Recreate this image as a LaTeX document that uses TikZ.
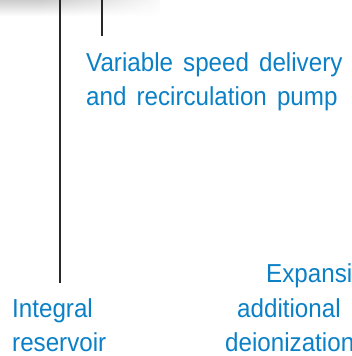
\documentclass[tikz,border=0pt]{standalone}
\usepackage{fontspec}
\setmainfont[FakeStretch=0.93,WordSpace=1.5]{Liberation Sans}
\usetikzlibrary{fadings}
\definecolor{labelblue}{RGB}{10,128,198}
\definecolor{leadgray}{RGB}{40,40,40}
\begin{document}
\begin{tikzpicture}[x=1pt,y=-1pt,
  lbl/.style={anchor=base west,inner sep=0pt,text=labelblue,font=\fontsize{26}{33}\selectfont},
  lead/.style={draw=leadgray,line width=2.5pt}]
\useasboundingbox (0,0) rectangle (351,356);
\clip (0,0) rectangle (351,356);
% soft shadow at top-left
\fill[gray!45,path fading=south] (0,-2) rectangle (160,16);
\fill[white,path fading=west] (40,-2) rectangle (170,17);
% leader lines
\coordinate (topA) at (60,0);
\coordinate (endA) at (60,283);
\coordinate (topB) at (102,0);
\coordinate (endB) at (102,36);
\draw[lead] (topA) -- (endA);
\draw[lead] (topB) -- (endB);
% labels
\node[lbl] (pump1) at (86,71) {Variable speed delivery};
\node[lbl] (pump2) at (86,105) {and recirculation pump};
\node[lbl] (res1) at (12,317) {Integral};
\node[lbl] (res2) at (12,351) {reservoir};
\node[lbl] (exp1) at (266,282) {Expansion};
\node[lbl] (exp2) at (237,317) {additional};
\node[lbl] (exp3) at (225,351) {deionization};
\end{tikzpicture}
\end{document}
